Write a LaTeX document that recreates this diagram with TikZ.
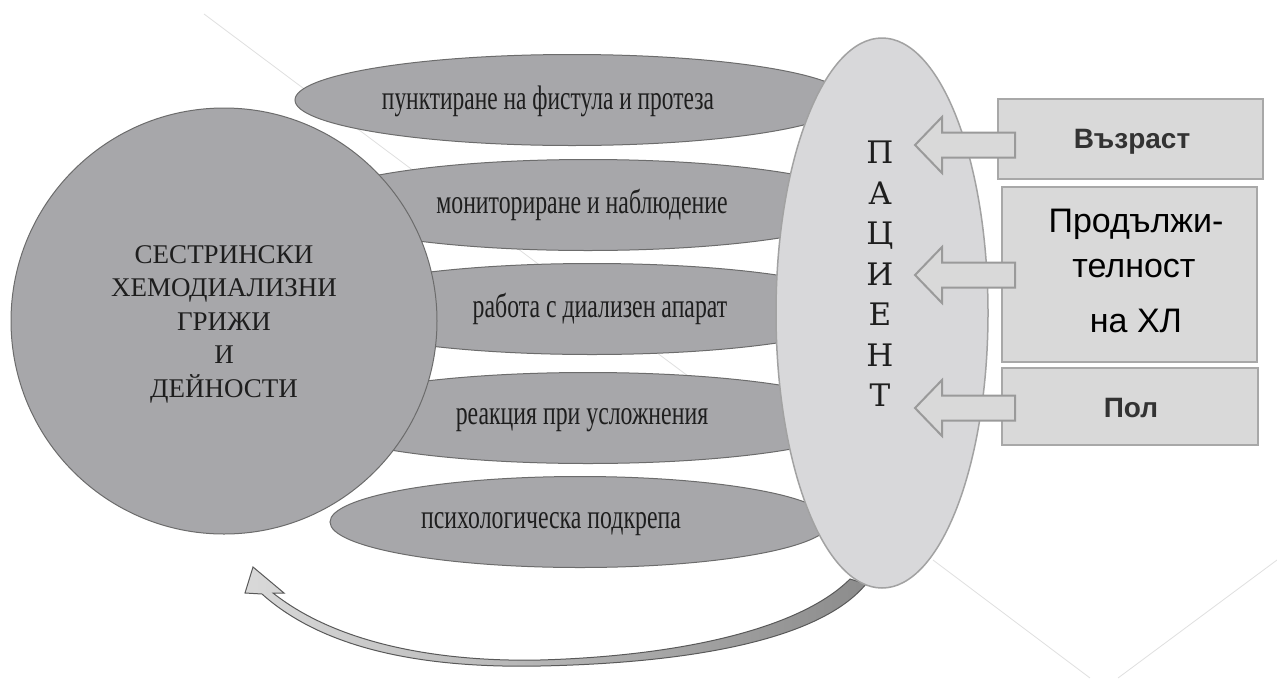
\documentclass[tikz,border=0pt]{standalone}
\usepackage{fontspec}
\setmainfont{Liberation Serif}
\newfontfamily\boxfont{Liberation Sans}
\newfontfamily\patfont{DejaVu Serif}
\usetikzlibrary{shapes.geometric,calc}
\definecolor{darkfill}{HTML}{A7A7AA}
\definecolor{darkline}{HTML}{6C6C6C}
\definecolor{lightfill}{HTML}{D8D8DA}
\definecolor{lightline}{HTML}{A2A2A2}
\definecolor{boxfill}{HTML}{D9D9D9}
\definecolor{boxline}{HTML}{A8A8A8}
\definecolor{faint}{HTML}{E0E0E0}
\definecolor{txt}{HTML}{1E1E1E}
\tikzset{
  task/.style={ellipse, draw=darkline, fill=darkfill, line width=1pt, inner sep=0pt, minimum height=91pt},
  tasktext/.style={font=\fontsize{34}{34}\selectfont, text=txt, inner sep=0pt},
  factorbox/.style={rectangle, draw=boxline, fill=boxfill, line width=2.5pt, inner sep=0pt},
  factortext/.style={font=\boxfont\fontsize{34}{34}\selectfont, text=black, inner sep=0pt, anchor=base},
  factorbold/.style={font=\boxfont\bfseries\fontsize{28}{28}\selectfont, text=black!80, inner sep=0pt, anchor=base},
  barrow/.style={draw=lightline!95!black, fill=boxfill, line width=2pt, line join=miter},
  inarrow/.pic={\draw[barrow] (0,0) -- ++(27,-28) -- ++(0,15.5) -- ++(73,0) -- ++(0,25) -- ++(-73,0) -- ++(0,15.5) -- cycle;},
  faintline/.style={draw=faint, line width=0.8pt}
}
\begin{document}
\begin{tikzpicture}[x=1pt,y=-1pt]
\useasboundingbox[fill=white] (0,0) rectangle (1277,678);
% faint background lines
\coordinate (fa) at (204,14);
\coordinate (fb) at (700,385);
\coordinate (fc) at (933,560);
\coordinate (fd) at (1090,678);
\coordinate (fe) at (1118,678);
\coordinate (ff) at (1277,560);
\draw[faintline] (fa) -- (fb);
\draw[faintline] (fc) -- (fd);
\draw[faintline] (fe) -- (ff);
% task ellipses
\node[task, minimum width=554pt] (e1) at (572,100) {};
\node[task, minimum width=556pt] (e2) at (588,205) {};
\node[task, minimum width=556pt] (e3) at (592,309) {};
\node[task, minimum width=556pt] (e4) at (588,418) {};
\node[task, minimum width=500pt] (e5) at (580,522) {};
% central circle
\node[circle, draw=darkline, fill=darkfill, line width=1pt, minimum size=426pt, inner sep=0pt] (care) at (224,321) {};
\node[font=\fontsize{27}{33.5}\selectfont, text=txt, align=center, inner sep=0pt] (caretext) at (224,324) {СЕСТРИНСКИ\\ХЕМОДИАЛИЗНИ\\ГРИЖИ\\И\\ДЕЙНОСТИ};
% task texts
\node[tasktext] (t1) at (548,101) {\scalebox{0.69}[1]{пунктиране на фистула и протеза}};
\node[tasktext] (t2) at (582,205) {\scalebox{0.7}[1]{мониториране и наблюдение}};
\node[tasktext] (t3) at (600,309) {\scalebox{0.7}[1]{работа с диализен апарат}};
\node[tasktext] (t4) at (582,420) {\scalebox{0.7}[1]{реакция при усложнения}};
\node[tasktext] (t5) at (551,524) {\scalebox{0.7}[1]{психологическа подкрепа}};
% curved feedback arrow
\draw[draw=black!65, line width=1pt, left color=boxfill, right color=black!45, line join=miter]
  (253,567) -- (245,593) -- (262,594)
  .. controls (330,655) and (440,668) .. (540,666)
  .. controls (690,663) and (820,640) .. (866,584)
  -- (850,579)
  .. controls (800,629) and (680,656) .. (540,660)
  .. controls (445,662) and (340,646) .. (273,593)
  -- (284,593) -- cycle;
% patient ellipse
\node[ellipse, draw=lightline, fill=lightfill, line width=1.5pt, minimum width=212pt, minimum height=550pt, inner sep=0pt] (pat) at (882,313) {};
\node[font=\patfont\fontsize{31}{40.5}\selectfont, text=txt, align=center, inner sep=0pt] (pattext) at (880,274) {П\\А\\Ц\\И\\Е\\Н\\Т};
% factor boxes
\node[factorbox, minimum width=265pt, minimum height=80pt] (age) at (1130.5,139) {};
\node[factorbox, minimum width=255pt, minimum height=175pt] (dur) at (1129.5,274.5) {};
\node[factorbox, minimum width=256pt, minimum height=77pt] (sex) at (1130,406.5) {};
\node[factorbold] (agetext) at (1132,148) {Възраст};
\node[factortext] (dur1) at (1136,232) {Продължи-};
\node[factortext] (dur2) at (1134,277) {телност};
\node[factortext] (dur3) at (1136,332) {на ХЛ};
\node[factorbold] (sextext) at (1131,417) {Пол};
% block arrows from boxes to patient
\pic at (915,145) {inarrow};
\pic at (915,275) {inarrow};
\pic at (915,408) {inarrow};
\end{tikzpicture}
\end{document}
